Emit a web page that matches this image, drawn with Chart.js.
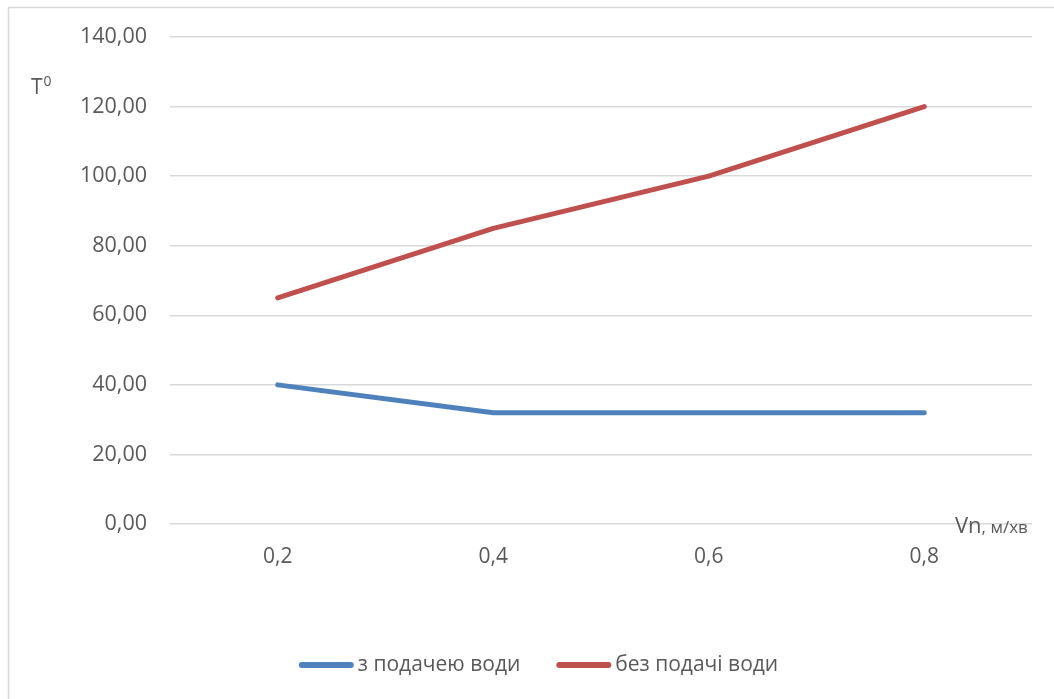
<!DOCTYPE html>
<html>
<head>
<meta charset="utf-8">
<script src="https://cdn.jsdelivr.net/npm/chart.js@4/dist/chart.umd.min.js"></script>
<style>
  html, body { margin: 0; padding: 0; background: #ffffff; }
  #wrap { position: relative; width: 1054px; height: 699px; }
</style>
</head>
<body>
<div id="wrap"><canvas id="chart"></canvas></div>
<script>
// Feed speed, m/min
const speeds = ['0,2', '0,4', '0,6', '0,8'];
// Temperature with water supply
const withWater = [40, 32, 32, 32];
// Temperature without water supply
const withoutWater = [65, 85, 100, 120];
const seriesNames = ['з подачею води', 'без подачі води'];

const FONT = '"Open Sans", "Liberation Sans", sans-serif';
const TEXT = '#595959';

// Outer frame and the two axis captions
const decorations = {
  id: 'decorations',
  afterDraw(chart) {
    const ctx = chart.ctx;
    ctx.save();
    ctx.strokeStyle = '#d9d9d9';
    ctx.lineWidth = 1.5;
    ctx.strokeRect(8.5, 7.5, 1200, 900);

    ctx.fillStyle = TEXT;
    ctx.textBaseline = 'alphabetic';
    ctx.textAlign = 'left';
    // y caption: T with superscript 0
    ctx.font = '21px ' + FONT;
    ctx.fillText('T', 31, 94);
    const tw = ctx.measureText('T').width;
    ctx.font = '14px ' + FONT;
    ctx.fillText('0', 31 + tw + 1, 86);

    // x caption: Vn, м/хв
    ctx.font = '22px ' + FONT;
    ctx.fillText('Vn', 955, 533);
    const vw = ctx.measureText('Vn').width;
    ctx.font = '17px ' + FONT;
    ctx.fillText(', м/хв', 955 + vw, 533);
    ctx.restore();
  }
};

// Legend row under the plot: line sample followed closely by the series name
const lineLegend = {
  id: 'lineLegend',
  afterDraw(chart) {
    const ctx = chart.ctx;
    const sample = 55, gapText = 4, gapItem = 36, cy = 665, centre = 538.5;
    ctx.save();
    ctx.font = '21px ' + FONT;
    const items = chart.data.datasets.map(ds => ({
      ds, w: sample + gapText + ctx.measureText(ds.label).width
    }));
    const total = items.reduce((a, it) => a + it.w, 0) + gapItem * (items.length - 1);
    let x = centre - total / 2;
    items.forEach(it => {
      ctx.strokeStyle = it.ds.borderColor;
      ctx.lineWidth = 6;
      ctx.lineCap = 'round';
      ctx.beginPath();
      ctx.moveTo(x + 3, cy);
      ctx.lineTo(x + sample - 3, cy);
      ctx.stroke();
      ctx.fillStyle = TEXT;
      ctx.textAlign = 'left';
      ctx.textBaseline = 'middle';
      ctx.fillText(it.ds.label, x + sample + gapText, cy);
      x += it.w + gapItem;
    });
    ctx.restore();
  }
};

new Chart(document.getElementById('chart'), {
  type: 'line',
  data: {
    labels: speeds,
    datasets: [
      {
        label: seriesNames[0],
        data: withWater,
        borderColor: '#4f81bd',
        backgroundColor: '#4f81bd',
        borderWidth: 5,
        borderCapStyle: 'round',
        borderJoinStyle: 'round',
        pointRadius: 0,
        pointHoverRadius: 0,
        tension: 0
      },
      {
        label: seriesNames[1],
        data: withoutWater,
        borderColor: '#c0504d',
        backgroundColor: '#c0504d',
        borderWidth: 5,
        borderCapStyle: 'round',
        borderJoinStyle: 'round',
        pointRadius: 0,
        pointHoverRadius: 0,
        tension: 0
      }
    ]
  },
  options: {
    responsive: true,
    maintainAspectRatio: false,
    animation: false,
    layout: { padding: { left: 0, right: 22, top: 37, bottom: 0 } },
    plugins: {
      tooltip: { enabled: false },
      legend: { display: false }
    },
    scales: {
      x: {
        offset: true,
        grid: { display: false, drawTicks: false },
        border: { display: false },
        ticks: { color: TEXT, padding: 20, font: { family: FONT, size: 21 } },
        afterFit(s) { s.height = 175; }
      },
      y: {
        min: 0,
        max: 140,
        ticks: {
          stepSize: 20,
          color: TEXT,
          padding: 23,
          font: { family: FONT, size: 21.5 },
          callback: v => v.toFixed(2).replace('.', ',')
        },
        grid: { color: '#d9d9d9', lineWidth: 1.5, drawTicks: false },
        border: { display: false },
        afterFit(s) { s.width = 170; }
      }
    }
  },
  plugins: [decorations, lineLegend]
});
</script>
</body>
</html>
